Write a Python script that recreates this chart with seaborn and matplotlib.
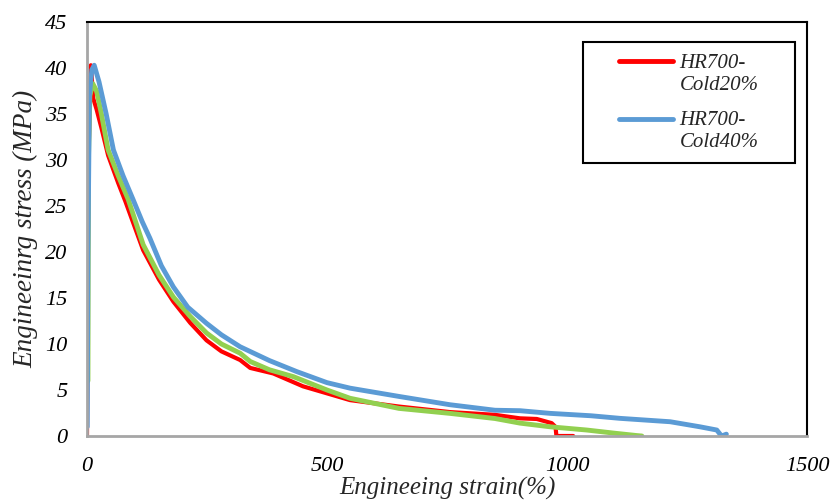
import numpy as np
import pandas as pd
import matplotlib
matplotlib.use("Agg")
import matplotlib.pyplot as plt
import seaborn as sns
from matplotlib.patches import Rectangle

# --- Datos (deformacion %, esfuerzo MPa) ---
strain_c20 = [0, 3, 8, 13, 20, 30, 44, 65, 80, 117, 150, 180, 215, 249, 280, 319,
              340, 388, 450, 548, 650, 756, 850, 902, 937, 968, 976, 978, 1013]
stress_c20 = [0, 30, 40.3, 36.7, 35.5, 33.5, 30.5, 27.5, 25.5, 20.2, 17.0, 14.6, 12.3,
              10.4, 9.2, 8.26, 7.4, 6.8, 5.4, 3.9, 3.2, 2.6, 2.3, 1.92, 1.85, 1.4, 1.0, 0, 0]

strain_c40 = [0.5, 2, 5, 10, 15, 25, 40, 55, 75, 96, 115, 131, 155, 180, 210, 249, 280,
              319, 380, 437, 500, 548, 650, 756, 850, 902, 965, 1050, 1110, 1215, 1277,
              1312, 1322, 1332]
stress_c40 = [1.0, 20, 37, 39.8, 40.3, 38.5, 35, 31.1, 28.3, 25.7, 23.3, 21.5, 18.5, 16.2,
              14, 12.25, 11, 9.7, 8.2, 7.0, 5.8, 5.2, 4.3, 3.4, 2.8, 2.75, 2.46, 2.2, 1.92,
              1.55, 1.0, 0.65, 0.0, 0.2]

strain_g = [2, 3, 6, 12, 20, 30, 44, 65, 86, 117, 150, 180, 215, 249, 280, 319, 340,
            380, 430, 500, 548, 650, 756, 850, 902, 965, 1041, 1100, 1145, 1156]
stress_g = [6, 30, 37, 38.3, 37.5, 35, 31.1, 28.3, 25.7, 20.8, 17.5, 15.1, 13, 11.2, 10,
            9.0, 8.1, 7.2, 6.45, 5.0, 4.1, 3.0, 2.46, 1.9, 1.4, 1.0, 0.65, 0.3, 0.05, 0]

x_ticks = [0, 500, 1000, 1500]
y_ticks = [0, 5, 10, 15, 20, 25, 30, 35, 40, 45]

sns.set_style("white")
plt.rcParams["font.family"] = ["Liberation Serif", "DejaVu Serif"]
plt.rcParams["font.style"] = "italic"

fig = plt.figure(figsize=(8.32, 5.03), dpi=100)
ax = fig.add_axes([87 / 832, 67 / 503, 720 / 832, 414 / 503])

sns.lineplot(x=strain_c20, y=stress_c20, ax=ax, color="#FF0000", linewidth=3.0,
             sort=False, estimator=None, label="HR700-\nCold20%")
sns.lineplot(x=strain_g, y=stress_g, ax=ax, color="#92D050", linewidth=3.5,
             sort=False, estimator=None, label="_nolegend_")
sns.lineplot(x=strain_c40, y=stress_c40, ax=ax, color="#5B9BD5", linewidth=3.5,
             sort=False, estimator=None, label="HR700-\nCold40%")

ax.set_xlim(0, 1500)
ax.set_ylim(0, 45)
ax.set_xticks(x_ticks, labels=[str(v) for v in x_ticks], fontstyle="italic", fontsize=16)
ax.set_yticks(y_ticks, labels=[str(v) for v in y_ticks], fontstyle="italic", fontsize=16)
ax.tick_params(axis="both", direction="in", length=4, width=1, color="#A6A6A6",
               labelcolor="black")
ax.tick_params(axis="y", pad=14)
ax.tick_params(axis="x", pad=15)

for s in ["left", "bottom"]:
    ax.spines[s].set_color("#A6A6A6")
    ax.spines[s].set_linewidth(2)
for s in ["top", "right"]:
    ax.spines[s].set_color("black")
    ax.spines[s].set_linewidth(1.5)
    ax.spines[s].set_visible(True)

ax.set_xlabel("Engineeing strain(%)", fontsize=18, style="italic", labelpad=1)
ax.set_ylabel("Engineeinrg stress (MPa)", fontsize=19.5, style="italic", labelpad=5)

# caja de la leyenda
ax.add_patch(Rectangle((0.689, 0.659), 0.294, 0.293, transform=ax.transAxes,
                       fill=False, edgecolor="black", linewidth=1.5, zorder=5))
leg = ax.legend(loc="upper left", bbox_to_anchor=(0.739, 0.923), frameon=False,
                handlelength=2.6, handletextpad=0.3, labelspacing=0.8,
                borderpad=0, borderaxespad=0, prop={"style": "italic", "size": 15})
for ln in leg.get_lines():
    ln.set_linewidth(3.5)
    yd = np.asarray(ln.get_ydata(), dtype=float)
    ln.set_ydata(yd + 9)

fig.savefig("out.png", dpi=100)
